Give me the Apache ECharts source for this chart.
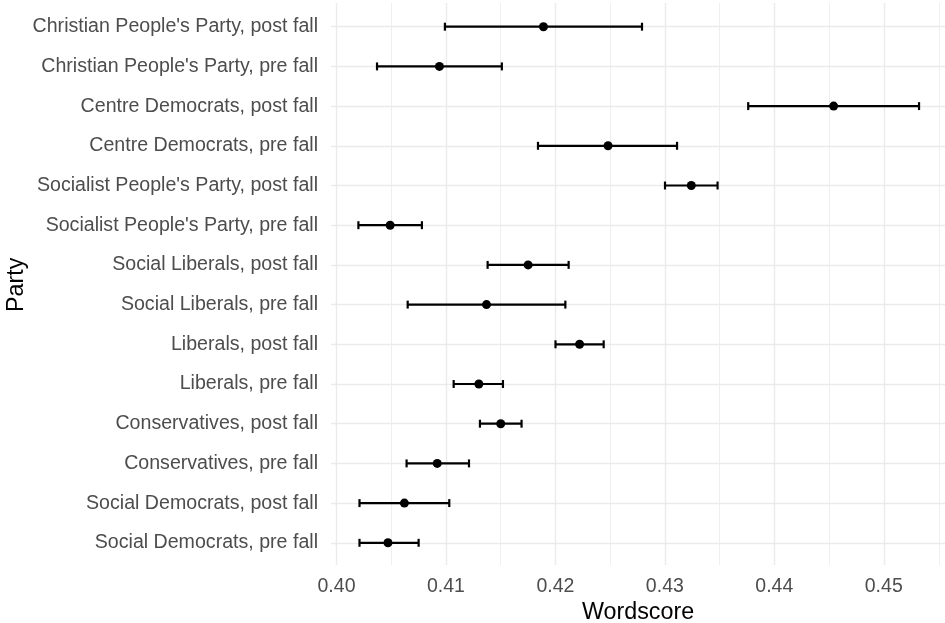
<!DOCTYPE html>
<html><head><meta charset="utf-8">
<script src="https://cdn.jsdelivr.net/npm/echarts@6/dist/echarts.min.js"></script>
<style>html,body{margin:0;padding:0;background:#fff}#c{width:945px;height:623px}</style>
</head><body><div id="c"></div>
<script>
// Data (top row first)
const categories = [
  "Christian People's Party, post fall",
  "Christian People's Party, pre fall",
  "Centre Democrats, post fall",
  "Centre Democrats, pre fall",
  "Socialist People's Party, post fall",
  "Socialist People's Party, pre fall",
  "Social Liberals, post fall",
  "Social Liberals, pre fall",
  "Liberals, post fall",
  "Liberals, pre fall",
  "Conservatives, post fall",
  "Conservatives, pre fall",
  "Social Democrats, post fall",
  "Social Democrats, pre fall"
];
const estimate = [0.4189, 0.4094, 0.4454, 0.4248, 0.4324, 0.4049, 0.4175, 0.4137, 0.4222, 0.4130, 0.4150, 0.4092, 0.4062, 0.4047];
const lower    = [0.4099, 0.4037, 0.4376, 0.4184, 0.4300, 0.4020, 0.4138, 0.4065, 0.4200, 0.4107, 0.4131, 0.4064, 0.4021, 0.4021];
const upper    = [0.4279, 0.4151, 0.4532, 0.4311, 0.4348, 0.4078, 0.4212, 0.4209, 0.4244, 0.4152, 0.4169, 0.4121, 0.4103, 0.4075];
const xMin = 0.40, xMaxMajor = 0.45, xMaxMinor = 0.455;
const majorStep = 0.01, minorStep = 0.005;

const FONT = "'Liberation Sans', Arial, sans-serif";
const GRID_COLOR = '#ebebeb';

const chart = echarts.init(document.getElementById('c'), null, {renderer: 'canvas'});

const hidden = {show: false};
const g = (l, r, t, b) => ({left: l, right: r, top: t, bottom: b, containLabel: false, outerBoundsMode: 'none'});
const option = {
  backgroundColor: '#ffffff',
  animation: false,
  grid: [
    g(331, 0, 6.85, 60.35),      // panel rows
    g(336.5, 6.25, 3, 58),       // minor grid
    g(336.5, 6.25, 6.85, 60.35), // data
    g(336.5, 61.25, 3, 58)       // major grid + labels
  ],
  xAxis: [
    {gridIndex: 0, type: 'value', min: 0, max: 1,
     axisLine: hidden, axisTick: hidden, axisLabel: hidden, splitLine: hidden,
     name: 'Wordscore', nameLocation: 'middle', nameGap: 38,
     nameTextStyle: {fontSize: 23.3, color: '#000', fontFamily: FONT}},
    {gridIndex: 1, type: 'value', min: xMin, max: xMaxMinor, interval: minorStep,
     axisLine: hidden, axisTick: hidden, axisLabel: hidden,
     splitLine: {show: true, lineStyle: {color: GRID_COLOR, width: 0.8}}},
    {gridIndex: 2, type: 'value', min: xMin, max: xMaxMinor, show: false},
    {gridIndex: 3, type: 'value', min: xMin, max: xMaxMajor, interval: majorStep,
     axisLine: hidden, axisTick: hidden,
     axisLabel: {show: true, margin: 12, fontSize: 19.5, color: '#4d4d4d', fontFamily: FONT,
                 formatter: v => v.toFixed(2)},
     splitLine: {show: true, lineStyle: {color: GRID_COLOR, width: 1.4}}}
  ],
  yAxis: [
    {gridIndex: 0, type: 'category', data: categories, inverse: true,
     axisLine: hidden, axisTick: hidden,
     axisLabel: {margin: 13, fontSize: 19.6, color: '#4d4d4d', fontFamily: FONT},
     splitLine: {show: true, alignWithLabel: true, lineStyle: {color: GRID_COLOR, width: 1.4}},
     name: 'Party', nameLocation: 'middle', nameGap: 303, nameRotate: 90, nameMoveOverlap: false,
     nameTextStyle: {fontSize: 23.3, color: '#000', fontFamily: FONT}},
    {gridIndex: 1, type: 'value', min: 0, max: 1, show: false},
    {gridIndex: 2, type: 'category', data: categories, inverse: true, show: false},
    {gridIndex: 3, type: 'value', min: 0, max: 1, show: false}
  ],
  series: [
    {
      type: 'custom', xAxisIndex: 2, yAxisIndex: 2, z: 3,
      data: categories.map((c, i) => [lower[i], upper[i], i]),
      encode: {x: [0, 1], y: 2},
      renderItem: function (params, api) {
        const lo = api.coord([api.value(0), api.value(2)]);
        const hi = api.coord([api.value(1), api.value(2)]);
        const half = api.size([0, 1])[1] * 0.1;
        const st = {stroke: '#000', lineWidth: 2.2};
        return {type: 'group', children: [
          {type: 'line', shape: {x1: lo[0], y1: lo[1], x2: hi[0], y2: hi[1]}, style: st},
          {type: 'line', shape: {x1: lo[0], y1: lo[1] - half, x2: lo[0], y2: lo[1] + half}, style: st},
          {type: 'line', shape: {x1: hi[0], y1: hi[1] - half, x2: hi[0], y2: hi[1] + half}, style: st}
        ]};
      }
    },
    {
      type: 'scatter', xAxisIndex: 2, yAxisIndex: 2, z: 4,
      symbol: 'circle', symbolSize: 9,
      itemStyle: {color: '#000', opacity: 1},
      emphasis: {disabled: true},
      data: estimate.map((v, i) => [v, i])
    }
  ]
};
chart.setOption(option);
</script>
</body></html>
